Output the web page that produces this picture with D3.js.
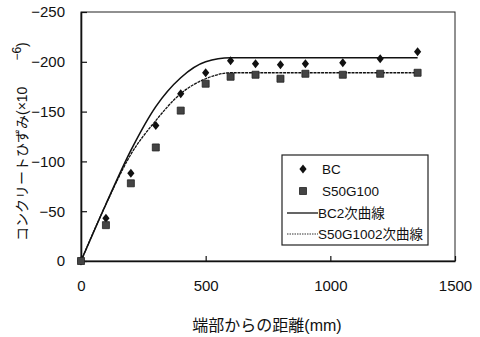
<!DOCTYPE html>
<html lang="ja">
<head>
<meta charset="utf-8">
<script src="https://d3js.org/d3.v7.min.js"></script>
<style>
  body { margin: 0; background: #fff; }
  text { font-family: "Liberation Sans", "Noto Sans CJK JP", sans-serif; fill: #111; }
</style>
</head>
<body>
<svg id="chart"></svg>
<script>
// measured strain along the member (x: distance from end, mm)
const distance = [0, 100, 200, 300, 400, 500, 600, 700, 800, 900, 1050, 1200, 1350]
const bcStrain = [0, -43, -88, -136, -168, -189, -201, -198, -197, -198, -199, -203, -210]
const s50Strain = [0, -36, -78, -114, -151, -178, -185, -187, -183, -188, -187, -188, -189]

// quadratic fit curves (flat after the peak)
const fitDistance = [0, 100, 200, 300, 400, 500, 600, 1350]
const bcFit = [0, -57, -111, -155, -184, -200, -204, -204]
const s50Fit = [0, -57, -107, -141, -168, -183, -189, -189]

const xTicks = [0, 500, 1000, 1500]
const yTicks = [0, -50, -100, -150, -200, -250]
const legendLabels = ['BC', 'S50G100', 'BC2次曲線', 'S50G1002次曲線']

const W = 480, H = 337
const plot = { left: 81, right: 455, top: 12, bottom: 261 }

const svg = d3.select('#chart').attr('width', W).attr('height', H)

const x = d3.scaleLinear().domain([0, 1500]).range([plot.left, plot.right])
const y = d3.scaleLinear().domain([0, -250]).range([plot.bottom, plot.top])

// frame
svg.append('rect')
    .attr('x', plot.left).attr('y', plot.top)
    .attr('width', plot.right - plot.left).attr('height', plot.bottom - plot.top)
    .attr('fill', 'none').attr('stroke', '#222').attr('stroke-width', 1)

// axes (ticks point inward)
const fmt = d3.format('d')
const xAxis = svg.append('g')
    .attr('transform', `translate(0,${plot.bottom})`)
    .call(d3.axisBottom(x).tickValues(xTicks).tickFormat(fmt).tickSize(-5).tickPadding(19).tickSizeOuter(0))
const yAxis = svg.append('g')
    .attr('transform', `translate(${plot.left},0)`)
    .call(d3.axisLeft(y).tickValues(yTicks).tickFormat(fmt).tickSize(-6).tickPadding(16).tickSizeOuter(0))

for (const ax of [xAxis, yAxis]) {
    ax.select('.domain').attr('stroke', '#111').attr('stroke-width', 1.6)
    ax.selectAll('.tick line').attr('stroke', '#111').attr('stroke-width', 1.2)
    ax.selectAll('.tick text').attr('font-size', 15).attr('fill', '#111')
        .style('font-family', '"Liberation Sans", Arial, sans-serif')
}

// fitted curves
const line = d3.line().x(d => x(d[0])).y(d => y(d[1])).curve(d3.curveMonotoneX)
svg.append('path')
    .datum(d3.zip(fitDistance, bcFit))
    .attr('d', line).attr('fill', 'none')
    .attr('stroke', '#111').attr('stroke-width', 1.6)
svg.append('path')
    .datum(d3.zip(fitDistance, s50Fit))
    .attr('d', line).attr('fill', 'none')
    .attr('stroke', '#111').attr('stroke-width', 1.3).attr('stroke-dasharray', '3,0.8')

// markers
const diamond = (cx, cy) => `M${cx},${cy - 4.5}L${cx + 3.6},${cy}L${cx},${cy + 4.5}L${cx - 3.6},${cy}Z`
const square = (cx, cy) => `M${cx - 3.5},${cy - 3.5}h7v7h-7Z`

svg.append('g').selectAll('path')
    .data(d3.zip(distance, bcStrain))
    .join('path')
    .attr('d', d => diamond(x(d[0]), y(d[1])))
    .attr('fill', '#111')

svg.append('g').selectAll('path')
    .data(d3.zip(distance, s50Strain))
    .join('path')
    .attr('d', d => square(x(d[0]), y(d[1])))
    .attr('fill', '#444').attr('stroke', '#222').attr('stroke-width', 0.8)

// legend
const lg = svg.append('g')
lg.append('rect')
    .attr('x', 282).attr('y', 155).attr('width', 146).attr('height', 90)
    .attr('fill', '#fff').attr('stroke', '#222').attr('stroke-width', 1.2)

const rows = [169, 191, 213, 234]
lg.append('path').attr('d', diamond(303, rows[0])).attr('fill', '#111')
lg.append('path').attr('d', square(303, rows[1]))
    .attr('fill', '#444').attr('stroke', '#222').attr('stroke-width', 0.8)
lg.append('line').attr('x1', 287).attr('x2', 318).attr('y1', rows[2]).attr('y2', rows[2])
    .attr('stroke', '#111').attr('stroke-width', 1.3)
lg.append('line').attr('x1', 287).attr('x2', 318).attr('y1', rows[3]).attr('y2', rows[3])
    .attr('stroke', '#333').attr('stroke-width', 1).attr('stroke-dasharray', '1.5,1')

lg.selectAll('text.lab')
    .data(legendLabels)
    .join('text')
    .attr('class', 'lab')
    .attr('x', (d, i) => i < 2 ? 322 : 318)
    .attr('y', (d, i) => rows[i] + 5)
    .attr('font-size', 13.5)
    .text(d => d)

// axis titles
svg.append('text')
    .attr('x', 267).attr('y', 331)
    .attr('text-anchor', 'middle')
    .attr('font-size', 16)
    .text('端部からの距離(mm)')

const yt = svg.append('text')
    .attr('transform', 'translate(27,241) rotate(-90)')
    .attr('font-size', 14)
yt.append('tspan').text('コンクリートひずみ(×10')
yt.append('tspan').attr('dx', 26).attr('dy', -6).attr('font-size', 12).text('−6')
yt.append('tspan').attr('dy', 6).text(')')
</script>
</body>
</html>
